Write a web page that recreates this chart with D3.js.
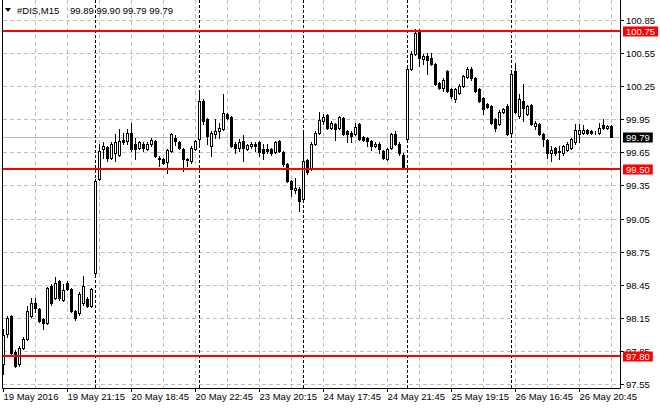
<!DOCTYPE html>
<html><head><meta charset="utf-8">
<script src="https://cdn.jsdelivr.net/npm/d3@7"></script>
<style>html,body{margin:0;padding:0;background:#fff;overflow:hidden}svg{display:block}</style>
</head><body>
<svg id="c" width="660" height="410"></svg>
<script>
const symbolName = "#DIS,M15";
const opens = [
97.73,98.00,98.17,97.84,97.73,97.88,97.96,98.17,98.28,98.23,
98.14,98.10,98.44,98.33,98.48,98.31,98.47,98.41,98.21,98.19,
98.28,98.32,98.26,98.56,99.41,99.68,99.70,99.60,99.64,99.63,
99.76,99.75,99.83,99.73,99.69,99.73,99.68,99.73,99.75,99.60,
99.59,99.56,99.66,99.78,99.74,99.68,99.58,99.57,99.68,99.77,
100.12,99.95,99.71,99.82,99.84,99.86,100.00,99.97,99.73,99.69,
99.75,99.68,99.71,99.73,99.74,99.68,99.68,99.68,99.65,99.75,
99.65,99.54,99.39,99.31,99.32,99.23,99.58,99.50,99.73,99.83,
99.93,99.99,99.87,99.91,99.87,99.96,99.84,99.83,99.82,99.91,
99.79,99.78,99.75,99.71,99.73,99.66,99.59,99.69,99.82,99.73,
99.63,99.77,100.41,100.54,100.75,100.50,100.52,100.51,100.45,100.28,
100.23,100.39,100.22,100.13,100.19,100.25,100.33,100.41,100.32,100.22,
100.14,100.09,100.07,99.95,99.91,100.02,100.07,99.83,100.39,99.98,
100.12,100.00,100.08,99.89,99.91,99.82,99.76,99.64,99.69,99.65,
99.64,99.67,99.69,99.74,99.82,99.83,99.85,99.84,99.83,99.83,
99.90,99.87,99.89];
const highs = [
98.05,98.17,98.18,97.86,97.89,97.98,98.26,98.33,98.33,98.24,
98.15,98.43,98.46,98.52,98.49,98.46,98.48,98.42,98.22,98.38,
98.53,98.34,98.42,99.41,99.73,99.74,99.71,99.74,99.82,99.86,
99.83,99.86,99.92,99.78,99.75,99.74,99.74,99.78,99.76,99.62,
99.60,99.68,99.83,99.81,99.75,99.69,99.60,99.71,99.76,100.20,
100.13,99.96,99.84,99.95,99.92,100.18,100.01,99.98,99.74,99.77,
99.81,99.73,99.74,99.74,99.75,99.73,99.73,99.69,99.75,99.76,
99.66,99.55,99.40,99.42,99.34,99.84,99.59,99.74,99.84,100.02,
100.00,100.00,99.93,99.92,99.98,99.97,99.85,99.84,99.92,99.92,
99.80,99.79,99.76,99.74,99.74,99.67,99.69,99.83,99.84,99.74,
99.64,100.42,100.57,100.77,100.77,100.54,100.55,100.55,100.46,100.29,
100.32,100.40,100.23,100.23,100.27,100.35,100.42,100.42,100.33,100.23,
100.15,100.10,100.08,99.96,100.03,100.05,100.09,100.37,100.46,100.18,
100.27,100.08,100.09,99.93,99.92,99.83,99.77,99.71,99.70,99.71,
99.72,99.74,99.78,99.91,99.91,99.90,99.86,99.85,99.84,99.92,
99.95,99.90,99.90];
const lows = [
97.64,97.98,97.82,97.70,97.71,97.87,97.95,98.16,98.20,98.11,
98.05,98.09,98.27,98.32,98.31,98.30,98.40,98.20,98.13,98.18,
98.27,98.25,98.25,98.55,99.40,99.60,99.57,99.59,99.57,99.62,
99.73,99.73,99.66,99.59,99.68,99.66,99.67,99.71,99.61,99.53,
99.54,99.46,99.65,99.72,99.68,99.48,99.53,99.55,99.67,99.73,
99.91,99.73,99.62,99.78,99.78,99.85,99.95,99.70,99.64,99.66,
99.57,99.67,99.69,99.66,99.62,99.59,99.64,99.63,99.64,99.65,
99.53,99.38,99.25,99.28,99.12,99.22,99.45,99.49,99.72,99.82,
99.91,99.86,99.86,99.76,99.86,99.81,99.74,99.74,99.81,99.76,
99.75,99.71,99.67,99.70,99.64,99.59,99.58,99.68,99.72,99.63,
99.50,99.76,100.40,100.53,100.43,100.45,100.36,100.44,100.26,100.22,
100.21,100.20,100.14,100.11,100.18,100.24,100.32,100.31,100.20,100.11,
100.00,100.05,99.91,99.84,99.90,100.01,99.81,99.82,100.01,99.96,
99.93,99.99,99.90,99.86,99.81,99.71,99.60,99.57,99.63,99.59,
99.63,99.66,99.68,99.73,99.74,99.82,99.82,99.82,99.82,99.82,
99.86,99.86,99.79];
const closes = [
97.99,98.15,97.83,97.71,97.88,97.96,98.21,98.28,98.24,98.12,
98.10,98.42,98.28,98.47,98.33,98.40,98.41,98.21,98.15,98.37,
98.44,98.26,98.41,99.39,99.66,99.71,99.60,99.73,99.74,99.75,
99.74,99.83,99.68,99.68,99.74,99.69,99.73,99.76,99.62,99.59,
99.55,99.67,99.82,99.75,99.69,99.59,99.59,99.69,99.75,100.12,
99.93,99.80,99.83,99.84,99.87,100.01,99.96,99.71,99.69,99.74,
99.69,99.72,99.73,99.71,99.65,99.64,99.66,99.64,99.74,99.66,
99.54,99.39,99.32,99.33,99.21,99.57,99.47,99.73,99.83,99.94,
99.97,99.87,99.92,99.86,99.97,99.82,99.82,99.80,99.88,99.77,
99.76,99.75,99.71,99.73,99.68,99.60,99.68,99.82,99.73,99.64,
99.51,100.41,100.54,100.73,100.51,100.52,100.49,100.45,100.27,100.23,
100.31,100.21,100.16,100.22,100.25,100.34,100.41,100.32,100.21,100.12,
100.04,100.06,99.92,99.87,100.02,100.04,99.82,100.36,100.02,100.13,
100.05,100.07,99.91,99.92,99.82,99.77,99.64,99.67,99.64,99.66,
99.71,99.73,99.77,99.85,99.85,99.85,99.83,99.83,99.83,99.87,
99.87,99.89,99.79];
const xTickIndex = [0,16,32,48,64,80,96,112,128,144];
const xTickLabels = ["19 May 2016","19 May 21:15","20 May 18:45","20 May 22:45","23 May 20:15","24 May 17:45","24 May 21:45","25 May 19:15","26 May 16:45","26 May 20:45"];
const yTicks = [100.85,100.55,100.25,99.95,99.65,99.35,99.05,98.75,98.45,98.15,97.85,97.55];
const levels = [100.75, 99.50, 97.80];
const daySeparators = [23,49,75,101,127];

const FONT = "Liberation Sans, Arial, sans-serif";
const FS = 9.5;
const n = closes.length;
const plotL = 3, plotR = 620, plotB = 388;
const svg = d3.select("#c");
const x = d3.scaleLinear().domain([0, n - 1]).range([3, 3 + 4 * (n - 1)]);
const y = d3.scaleLinear().domain([97.55, 100.85]).rangeRound([384, 20]);

// grid
const grid = svg.append("g");
grid.selectAll("line.h").data(yTicks).join("line")
  .attr("x1", plotL).attr("x2", plotR)
  .attr("y1", d => y(d) + 0.5).attr("y2", d => y(d) + 0.5)
  .attr("stroke", "#c0c0c0").attr("stroke-dasharray", "4,3");
const vIdx = d3.range(8, n, 8);
grid.selectAll("line.v").data(vIdx).join("line")
  .attr("x1", d => x(d) + 0.5).attr("x2", d => x(d) + 0.5)
  .attr("y1", 0).attr("y2", plotB)
  .attr("stroke", "#c0c0c0").attr("stroke-dasharray", "4,3");
// bid line
grid.append("line").attr("x1", plotL).attr("x2", plotR)
  .attr("y1", y(closes[n - 1]) + 0.5).attr("y2", y(closes[n - 1]) + 0.5)
  .attr("stroke", "#c0c0c0");
// day separators
grid.selectAll("line.s").data(daySeparators).join("line")
  .attr("x1", d => x(d) + 0.5).attr("x2", d => x(d) + 0.5)
  .attr("y1", 0).attr("y2", plotB)
  .attr("stroke", "#000").attr("stroke-dasharray", "3,2");

// candles
const bars = d3.range(n).map(i => ({i, o: opens[i], h: highs[i], l: lows[i], c: closes[i]}));
const cg = svg.append("g");
cg.selectAll("line.w").data(bars).join("line")
  .attr("x1", d => x(d.i) + 0.5).attr("x2", d => x(d.i) + 0.5)
  .attr("y1", d => y(d.h)).attr("y2", d => y(d.l) + 1)
  .attr("stroke", "#000");
cg.selectAll("rect").data(bars).join("rect")
  .attr("x", d => x(d.i) - 0.5)
  .attr("y", d => Math.min(y(d.o), y(d.c)) + 0.5)
  .attr("width", 2)
  .attr("height", d => Math.abs(y(d.o) - y(d.c)))
  .attr("fill", d => d.c >= d.o ? "#fff" : "#000")
  .attr("stroke", "#000");

// level lines
svg.append("g").selectAll("line").data(levels).join("line")
  .attr("x1", plotL).attr("x2", plotR)
  .attr("y1", d => y(d)).attr("y2", d => y(d))
  .attr("stroke", "#ff0000").attr("stroke-width", 2);

// frame
svg.append("path").attr("d", `M${plotL - 0.5},0V${plotB + 0.5}H${plotR + 0.5}V0`)
  .attr("fill", "none").attr("stroke", "#000");

// axes
const ya = svg.append("g").attr("transform", `translate(${plotR},0)`)
  .call(d3.axisRight(y).tickValues(yTicks).tickFormat(d3.format(".2f")).tickSize(4).tickSizeOuter(0).tickPadding(2));
ya.select(".domain").remove();
ya.selectAll("text").attr("font-family", FONT).attr("font-size", FS).attr("fill", "#000");
ya.selectAll("line").attr("stroke", "#000");

const xa = svg.append("g").attr("transform", `translate(0,${plotB})`)
  .call(d3.axisBottom(x).tickValues(xTickIndex).tickFormat((d, i) => xTickLabels[i]).tickSize(4).tickSizeOuter(0).tickPadding(1));
xa.select(".domain").remove();
xa.selectAll("text").attr("font-family", FONT).attr("font-size", FS).attr("fill", "#000").attr("text-anchor", "start").attr("dx", 0);
xa.selectAll("line").attr("stroke", "#000");

// price boxes
const boxes = levels.map(v => ({v, bg: "#ff0000"})).concat([{v: closes[n - 1], bg: "#000"}]);
const bgG = svg.append("g");
boxes.forEach(b => {
  const g = bgG.append("g");
  const r = g.append("rect").attr("fill", b.bg);
  const t = g.append("text").attr("x", 626).attr("y", y(b.v) + 0.5).attr("dy", "0.35em")
    .attr("font-family", FONT).attr("font-size", FS).attr("fill", "#fff").text(d3.format(".2f")(b.v));
  const w = t.node().getComputedTextLength();
  r.attr("x", 623).attr("y", y(b.v) - 4.5).attr("width", w + 6).attr("height", 10);
});

// header
svg.append("path").attr("d", "M5,8L11,8L8,12Z").attr("fill", "#000");
svg.append("text").attr("x", 17).attr("y", 14).attr("font-family", FONT).attr("font-size", FS).attr("fill", "#000").text(symbolName);
const last = n - 1;
svg.append("text").attr("x", 70).attr("y", 14).attr("font-family", FONT).attr("font-size", FS).attr("fill", "#000")
  .text([opens[last], highs[last], lows[last], closes[last]].map(d3.format(".2f")).join(" "));
</script>
</body></html>
